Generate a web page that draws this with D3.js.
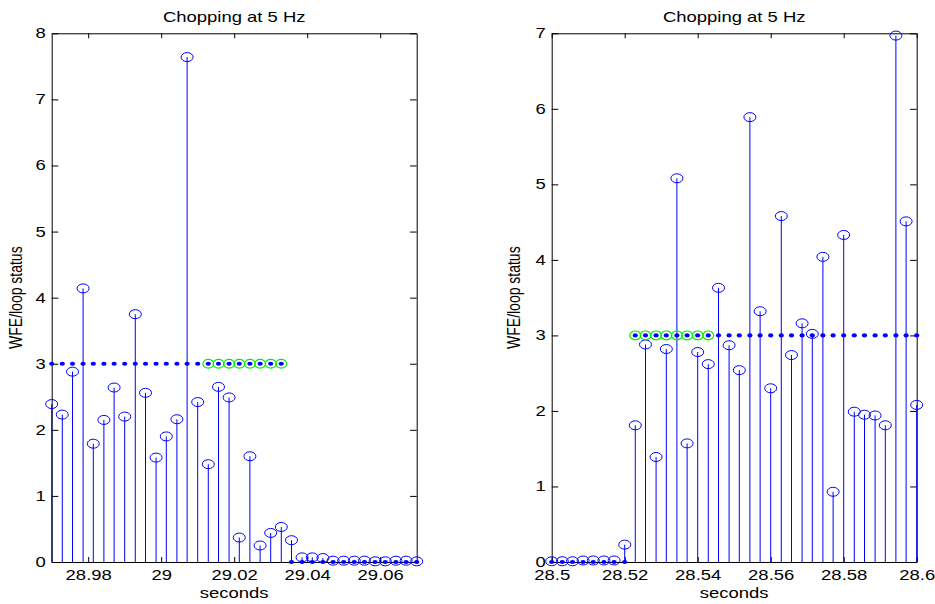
<!DOCTYPE html>
<html>
<head>
<meta charset="utf-8">
<script src="https://cdn.jsdelivr.net/npm/d3@7"></script>
<style>
  html, body { margin: 0; padding: 0; background: #fff; }
  svg { display: block; }
  text { font-family: "Liberation Sans", Arial, Helvetica, sans-serif; fill: #000; }
</style>
</head>
<body>
<svg id="fig" width="935" height="604"></svg>
<script>
// ---- Left panel: drop-out of the loop ----
const leftTime = [
  28.9700, 28.9729, 28.9757, 28.9786, 28.9814, 28.9843, 28.9871, 28.9900, 28.9929,
  28.9957, 28.9986, 29.0014, 29.0043, 29.0071, 29.0100, 29.0129, 29.0157, 29.0186,
  29.0214, 29.0243, 29.0271, 29.0300, 29.0329, 29.0357, 29.0386, 29.0414, 29.0443,
  29.0471, 29.0500, 29.0529, 29.0557, 29.0586, 29.0614, 29.0643, 29.0671, 29.0700
];
const leftWfe = [
  2.39, 2.23, 2.88, 4.14, 1.79, 2.15, 2.64, 2.20, 3.75,
  2.56, 1.58, 1.90, 2.16, 7.64, 2.42, 1.48, 2.65, 2.49,
  0.37, 1.60, 0.25, 0.44, 0.53, 0.33, 0.07, 0.07, 0.06,
  0.02, 0.02, 0.02, 0.02, 0.01, 0.01, 0.02, 0.02, 0.01
];
const leftStatus = [
  3, 3, 3, 3, 3, 3, 3, 3, 3,
  3, 3, 3, 3, 3, 3, 3, 3, 3,
  3, 3, 3, 3, 3, 0, 0, 0, 0,
  0, 0, 0, 0, 0, 0, 0, 0, 0
];
const leftFlag = [
  0, 0, 0, 0, 0, 0, 0, 0, 0,
  0, 0, 0, 0, 0, 0, 1, 1, 1,
  1, 1, 1, 1, 1, 0, 0, 0, 0,
  0, 0, 0, 0, 0, 0, 0, 0, 0
];
const leftXTicks = [28.98, 29, 29.02, 29.04, 29.06];
const leftYTicks = [0, 1, 2, 3, 4, 5, 6, 7, 8];

// ---- Right panel: loop closing ----
const rightTime = [
  28.5000, 28.5029, 28.5057, 28.5086, 28.5114, 28.5143, 28.5171, 28.5200, 28.5229,
  28.5257, 28.5286, 28.5314, 28.5343, 28.5371, 28.5400, 28.5429, 28.5457, 28.5486,
  28.5514, 28.5543, 28.5571, 28.5600, 28.5629, 28.5657, 28.5686, 28.5714, 28.5743,
  28.5771, 28.5800, 28.5829, 28.5857, 28.5886, 28.5914, 28.5943, 28.5971, 28.6000
];
const rightWfe = [
  0.01, 0.01, 0.01, 0.02, 0.02, 0.02, 0.02, 0.23, 1.81,
  2.88, 1.39, 2.82, 5.08, 1.57, 2.78, 2.62, 3.63, 2.87,
  2.54, 5.89, 3.32, 2.30, 4.58, 2.74, 3.16, 3.02, 4.04,
  0.93, 4.33, 1.99, 1.95, 1.94, 1.81, 6.97, 4.51, 2.08
];
const rightStatus = [
  0, 0, 0, 0, 0, 0, 0, 0, 3,
  3, 3, 3, 3, 3, 3, 3, 3, 3,
  3, 3, 3, 3, 3, 3, 3, 3, 3,
  3, 3, 3, 3, 3, 3, 3, 3, 3
];
const rightFlag = [
  0, 0, 0, 0, 0, 0, 0, 0, 1,
  1, 1, 1, 1, 1, 1, 1, 0, 0,
  0, 0, 0, 0, 0, 0, 0, 0, 0,
  0, 0, 0, 0, 0, 0, 0, 0, 0
];
const rightXTicks = [28.5, 28.52, 28.54, 28.56, 28.58, 28.6];
const rightYTicks = [0, 1, 2, 3, 4, 5, 6, 7];

const titleText = "Chopping at 5 Hz";
const xLabelText = "seconds";
const yLabelText = "WFE/loop status";

// Figure text and markers are drawn with a wide horizontal aspect.
const SX = 1.32;
const FONT = 14;
const TOP = 33.3, BOTTOM = 562;

const svg = d3.select("#fig");

function drawPanel(p) {
  const x = d3.scaleLinear().domain(p.xDomain).range([p.left, p.right]);
  const y = d3.scaleLinear().domain(p.yDomain).range([BOTTOM, TOP]);
  const g = svg.append("g");
  const fmt = d3.format("~g");

  // Axes box with inward ticks on all four sides
  const styleAxis = sel => {
    sel.select(".domain").attr("stroke", "#000").attr("stroke-width", 1);
    sel.selectAll(".tick line").attr("stroke", "#000").attr("stroke-width", 1);
    sel.selectAll("text").attr("font-size", FONT).attr("fill", "#000")
      .attr("font-family", null).attr("transform", `scale(${SX},1)`);
  };

  g.append("g").attr("transform", `translate(0,${BOTTOM})`)
    .call(d3.axisBottom(x).tickValues(p.xTicks).tickFormat(fmt)
      .tickSize(-5).tickSizeOuter(0).tickPadding(8))
    .call(styleAxis);

  g.append("g").attr("transform", `translate(0,${TOP})`)
    .call(d3.axisTop(x).tickValues(p.xTicks).tickFormat("")
      .tickSize(-5).tickSizeOuter(0))
    .call(styleAxis);

  g.append("g").attr("transform", `translate(${p.left},0)`)
    .call(d3.axisLeft(y).tickValues(p.yTicks).tickFormat(fmt)
      .tickSize(-6.6).tickSizeOuter(0).tickPadding(6 / SX))
    .call(styleAxis);

  g.append("g").attr("transform", `translate(${p.right},0)`)
    .call(d3.axisRight(y).tickValues(p.yTicks).tickFormat("")
      .tickSize(-6.6).tickSizeOuter(0))
    .call(styleAxis);

  const pts = p.time.map((t, i) => ({ t, v: p.wfe[i], s: p.status[i], f: p.flag[i] }));

  // WFE stems
  g.append("g").selectAll("line").data(pts).join("line")
    .attr("x1", d => x(d.t)).attr("x2", d => x(d.t))
    .attr("y1", y(0)).attr("y2", d => y(d.v))
    .attr("stroke", "#0000ff").attr("stroke-width", 1);
  g.append("g").selectAll("ellipse").data(pts).join("ellipse")
    .attr("cx", d => x(d.t)).attr("cy", d => y(d.v))
    .attr("rx", 6).attr("ry", 4.5)
    .attr("fill", "none").attr("stroke", "#0000ff").attr("stroke-width", 1);

  // Loop status dots
  g.append("g").selectAll("ellipse").data(pts).join("ellipse")
    .attr("cx", d => x(d.t)).attr("cy", d => y(d.s))
    .attr("rx", 2.6).attr("ry", 2.1)
    .attr("fill", "#0000ff");

  // Flagged status samples
  g.append("g").selectAll("ellipse").data(pts.filter(d => d.f)).join("ellipse")
    .attr("cx", d => x(d.t)).attr("cy", d => y(d.s))
    .attr("rx", 5.4).attr("ry", 4.4)
    .attr("fill", "none").attr("stroke", "#00ee00").attr("stroke-width", 1.2);

  const cx = (p.left + p.right) / 2;
  const cy = (TOP + BOTTOM) / 2;

  g.append("text").attr("transform", `translate(${cx},22) scale(${SX},1)`)
    .attr("text-anchor", "middle").attr("font-size", FONT).text(titleText);

  g.append("text").attr("transform", `translate(${cx},598) scale(${SX},1)`)
    .attr("text-anchor", "middle").attr("font-size", FONT).text(xLabelText);

  g.append("text").attr("transform", `translate(${p.yLabelX},${cy}) scale(${SX},1) rotate(-90)`)
    .attr("text-anchor", "middle").attr("font-size", FONT).text(yLabelText);
}

drawPanel({
  left: 51.7, right: 416.7, xDomain: [28.97, 29.07], yDomain: [0, 8],
  time: leftTime, wfe: leftWfe, status: leftStatus, flag: leftFlag,
  xTicks: leftXTicks, yTicks: leftYTicks, yLabelX: 21.5
});
drawPanel({
  left: 551.7, right: 916.7, xDomain: [28.5, 28.6], yDomain: [0, 7],
  time: rightTime, wfe: rightWfe, status: rightStatus, flag: rightFlag,
  xTicks: rightXTicks, yTicks: rightYTicks, yLabelX: 520
});
</script>
</body>
</html>
